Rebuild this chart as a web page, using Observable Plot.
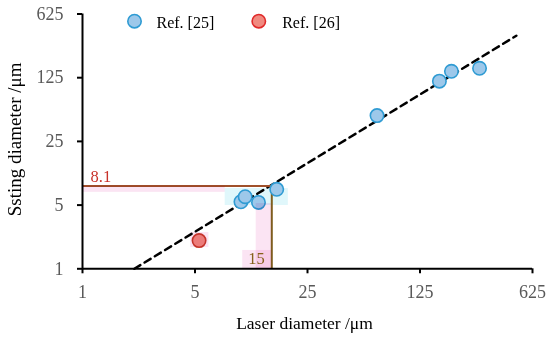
<!DOCTYPE html>
<html>
<head>
<meta charset="utf-8">
<script src="https://cdn.jsdelivr.net/npm/d3@7"></script>
<script src="https://cdn.jsdelivr.net/npm/@observablehq/plot@0.6"></script>
<style>
  html, body { margin: 0; padding: 0; background: #fff; }
</style>
</head>
<body>
<div id="chart"></div>
<script>
// ---- data ----
const ref25X = [9.65, 10.25, 12.4, 16.1, 67.6, 165, 196, 293];
const ref25Y = [5.44, 6.18, 5.35, 7.45, 48.0, 114.6, 147, 158.6];
const ref26X = [5.3];
const ref26Y = [2.04];
const fitX = [2.1, 496];
const fitY = [1, 361];
const markX = 15;
const markY = 8.1;
const tickValues = [1, 5, 25, 125, 625];
const legendLabels = ["Ref. [25]", "Ref. [26]"];
const xTitle = "Laser diameter /\u03bcm";
const yTitle = "Ssting diameter /\u03bcm";
// highlight regions in the reference (data units)
const pinkX1 = [1, 12, 9.9, 4.7];
const pinkX2 = [7.7, 15, 15, 6.1];
const pinkY1 = [6.9, 1, 1, 1.71];
const pinkY2 = [8.1, 5.2, 1.59, 2.5];
const cyanX1 = [7.7];
const cyanX2 = [19];
const cyanY1 = [4.95];
const cyanY2 = [7.6];

const ref25 = ref25X.map((x, i) => ({x, y: ref25Y[i]}));
const ref26 = ref26X.map((x, i) => ({x, y: ref26Y[i]}));
const fit = fitX.map((x, i) => ({x, y: fitY[i]}));
const pink = pinkX1.map((x1, i) => ({x1, x2: pinkX2[i], y1: pinkY1[i], y2: pinkY2[i]}));
const cyan = cyanX1.map((x1, i) => ({x1, x2: cyanX2[i], y1: cyanY1[i], y2: cyanY2[i]}));

const blueFill = "#9dc8ea", blueStroke = "#2f9bd3";
const redFill = "#f08a80", redStroke = "#c8382c";

const chart = Plot.plot({
  width: 550,
  height: 340,
  marginLeft: 82,
  marginRight: 18,
  marginTop: 13.5,
  marginBottom: 71.7,
  style: {fontFamily: "'Liberation Serif', 'Times New Roman', serif", background: "white"},
  x: {type: "log", base: 5, domain: [1, 625], label: null},
  y: {type: "log", base: 5, domain: [1, 625], label: null},
  marks: [
    Plot.rect(cyan, {x1: "x1", x2: "x2", y1: "y1", y2: "y2", fill: "#e0f7fb"}),
    Plot.line(fit, {x: "x", y: "y", stroke: "black", strokeWidth: 2.5, strokeDasharray: "7,5"}),
    Plot.ruleY([{y: markY, x1: 1, x2: markX}], {y: "y", x1: "x1", x2: "x2", stroke: "#a0502a", strokeWidth: 2}),
    Plot.ruleX([{x: markX, y1: 1, y2: markY}], {x: "x", y1: "y1", y2: "y2", stroke: "#7f5f1f", strokeWidth: 2}),
    Plot.dot(ref25, {x: "x", y: "y", r: 6.7, fill: blueFill, stroke: blueStroke, strokeWidth: 1.6}),
    Plot.dot(ref26, {x: "x", y: "y", r: 6.7, fill: redFill, stroke: redStroke, strokeWidth: 1.6}),
    Plot.rect(pink, {x1: "x1", x2: "x2", y1: "y1", y2: "y2", fill: "#fbe4f3", mixBlendMode: "multiply"}),
    Plot.text([markY], {x: 1, y: markY, text: d => String(d), textAnchor: "start", dx: 8, dy: -9, fill: "#c8322a", fontSize: 16.5}),
    Plot.text([markX], {x: markX, y: 1, text: d => String(d), textAnchor: "end", dx: -7, dy: -10, fill: "#86601a", fontSize: 16.5}),
    Plot.ruleX([1], {stroke: "black", strokeWidth: 2}),
    Plot.ruleY([1], {stroke: "black", strokeWidth: 2}),
    Plot.axisX({ticks: tickValues, tickFormat: d => String(d), tickSize: 5, tickPadding: 11, stroke: "black", strokeWidth: 2, fill: "#595959", fontSize: 18, label: null}),
    Plot.axisY({ticks: tickValues, tickFormat: d => String(d), tickSize: 5, tickPadding: 14, stroke: "black", strokeWidth: 2, fill: "#595959", fontSize: 18, label: null}),
    Plot.text([xTitle], {text: d => d, frameAnchor: "bottom", textAnchor: "middle", lineAnchor: "middle", dx: -3, dy: 55, fontSize: 17.5, fill: "black"}),
    Plot.text([yTitle], {text: d => d, frameAnchor: "left", textAnchor: "middle", lineAnchor: "middle", rotate: -90, dx: -68, dy: -2, fontSize: 19, fill: "black"}),
    // legend
    Plot.dot([legendLabels[0]], {frameAnchor: "top-left", dx: 52, dy: 7.2, r: 6.7, fill: blueFill, stroke: blueStroke, strokeWidth: 1.6}),
    Plot.text([legendLabels[0]], {text: d => d, frameAnchor: "top-left", textAnchor: "start", lineAnchor: "middle", dx: 74, dy: 9, fontSize: 16, fill: "black"}),
    Plot.dot([legendLabels[1]], {frameAnchor: "top-left", dx: 176.3, dy: 7.2, r: 6.7, fill: redFill, stroke: "#e02a2a", strokeWidth: 1.6}),
    Plot.text([legendLabels[1]], {text: d => d, frameAnchor: "top-left", textAnchor: "start", lineAnchor: "middle", dx: 199.7, dy: 9, fontSize: 16, fill: "black"})
  ]
});
document.getElementById("chart").appendChild(chart);
</script>
</body>
</html>
